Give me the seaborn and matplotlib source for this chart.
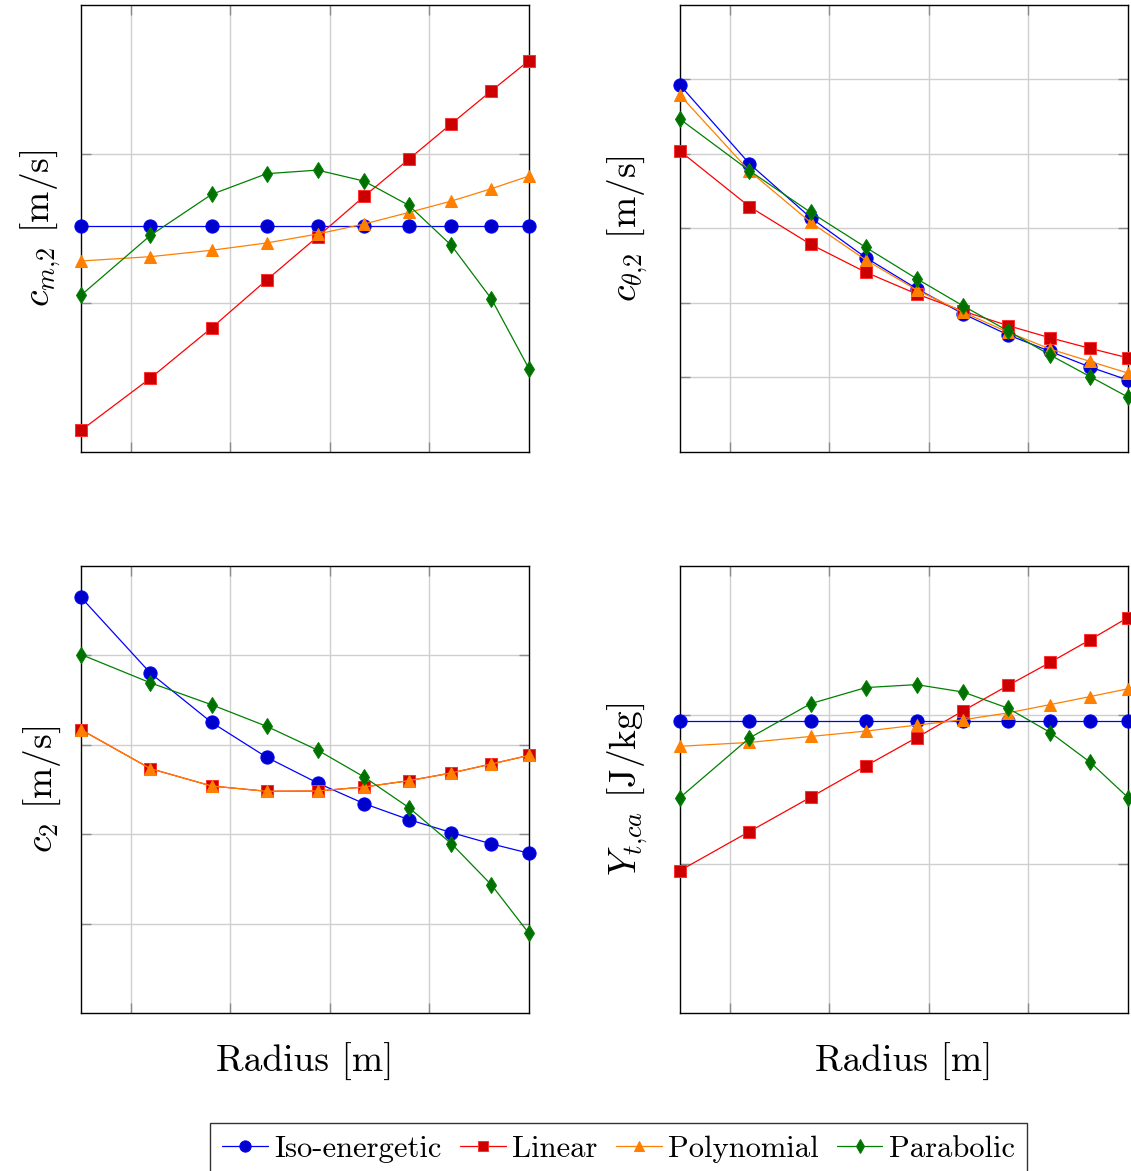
import matplotlib
matplotlib.use("Agg")
import matplotlib.pyplot as plt
import numpy as np
import pandas as pd
import seaborn as sns

# Radial stations [m]
radius = [0.075, 0.1099, 0.1406, 0.1683, 0.1938, 0.2172, 0.2397, 0.2610, 0.2811, 0.300]

# Meridional velocity c_m,2 [m/s]
cm_iso = [55.15] * 10
cm_lin = [41.45, 44.96, 48.33, 51.55, 54.45, 57.16, 59.66, 62.03, 64.24, 66.27]
cm_pol = [52.82, 53.11, 53.54, 54.03, 54.63, 55.30, 56.08, 56.84, 57.67, 58.52]
cm_par = [50.52, 54.54, 57.29, 58.68, 58.92, 58.18, 56.55, 53.87, 50.28, 45.59]

# Tangential velocity c_theta,2 [m/s]
ct_iso = [79.24, 68.69, 61.45, 56.09, 51.94, 48.54, 45.73, 43.49, 41.39, 39.65]
ct_lin = [70.39, 62.93, 57.88, 54.13, 51.22, 48.90, 46.97, 45.32, 43.90, 42.64]
ct_pol = [77.89, 67.70, 60.83, 55.78, 51.76, 48.76, 46.09, 43.81, 42.15, 40.59]
ct_par = [74.68, 67.75, 62.17, 57.47, 53.27, 49.61, 46.26, 43.00, 40.10, 37.37]

# Absolute velocity c_2 [m/s]
c2_iso = [96.50, 88.01, 82.50, 78.60, 75.73, 73.42, 71.63, 70.18, 68.92, 67.87]
c2_lin = [81.69, 77.33, 75.39, 74.80, 74.83, 75.28, 75.99, 76.85, 77.85, 78.82]
c2_pol = [81.69, 77.33, 75.39, 74.80, 74.83, 75.28, 75.99, 76.85, 77.85, 78.82]
c2_par = [90.10, 86.93, 84.48, 82.06, 79.41, 76.40, 72.97, 68.95, 64.34, 58.90]

# Specific work Y_t,ca [J/kg]
y_iso = [2481] * 10
y_lin = [1978, 2109, 2224, 2329, 2424, 2514, 2599, 2677, 2753, 2827]
y_pol = [2395, 2408, 2428, 2446, 2466, 2484, 2507, 2535, 2562, 2588]
y_par = [2223, 2423, 2538, 2592, 2602, 2577, 2523, 2441, 2341, 2223]

series_names = ["Iso-energetic", "Linear", "Polynomial", "Parabolic"]

sns.set_theme(style="whitegrid")
plt.rcParams["font.family"] = ["cmr10", "DejaVu Serif"]
plt.rcParams["mathtext.fontset"] = "cm"
plt.rcParams["axes.formatter.use_mathtext"] = True
plt.rcParams["text.color"] = "black"
plt.rcParams["axes.labelcolor"] = "black"

styles = {
    "Iso-energetic": dict(color="#0000ff", marker="o", markersize=9.5,
                          markerfacecolor="#0000cc", markeredgecolor="#0000ff"),
    "Linear": dict(color="#ff0000", marker="s", markersize=9.0,
                   markerfacecolor="#cc0000", markeredgecolor="#ff3030"),
    "Polynomial": dict(color="#ff8000", marker="^", markersize=9.0,
                       markerfacecolor="#ff8000", markeredgecolor="#ff8000"),
    "Parabolic": dict(color="#008000", marker="d", markersize=8.5,
                      markerfacecolor="#007000", markeredgecolor="#008000"),
}

panels = [
    dict(data=[cm_iso, cm_lin, cm_pol, cm_par], ylim=(40, 70), yticks=[50, 60],
         ylabel=r"$c_{m{,}2}$ [m/s]", rect=[81, 5]),
    dict(data=[ct_iso, ct_lin, ct_pol, ct_par], ylim=(30, 90), yticks=[40, 50, 60, 70, 80],
         ylabel=r"$c_{\theta{,}2}$ [m/s]", rect=[680, 5]),
    dict(data=[c2_iso, c2_lin, c2_pol, c2_par], ylim=(50, 100), yticks=[60, 70, 80, 90],
         ylabel=r"$c_{2}$ [m/s]", rect=[81, 566]),
    dict(data=[y_iso, y_lin, y_pol, y_par], ylim=(1500, 3000), yticks=[2000, 2500],
         ylabel=r"$Y_{t{,}ca}$ [J/kg]", rect=[680, 566]),
]

W, H = 1131, 1171
fig = plt.figure(figsize=(W / 100, H / 100), dpi=100)
fig.patch.set_facecolor("white")

aw, ah = 448, 447
axes = []
for i, p in enumerate(panels):
    x0, y0 = p["rect"]
    ax = fig.add_axes([x0 / W, 1 - (y0 + ah) / H, aw / W, ah / H])
    ax.set_facecolor("white")
    for name, vals in zip(series_names, p["data"]):
        df = pd.DataFrame({"r": radius, "v": vals})
        sns.lineplot(data=df, x="r", y="v", ax=ax, label=name, linewidth=0.9,
                     clip_on=False, zorder=3, legend=False, **styles[name])
    ax.set_xlim(0.075, 0.3)
    ax.set_ylim(*p["ylim"])
    ax.set_xticks([0.1, 0.15, 0.2, 0.25])
    ax.set_yticks(p["yticks"])
    ax.grid(True, color="#cfcfcf", linewidth=1.0)
    ax.tick_params(direction="in", length=7, width=1.0, color="#8a8a8a",
                   top=True, right=True, bottom=True, left=True,
                   labelbottom=False, labelleft=False)
    for s in ax.spines.values():
        s.set_color("black")
        s.set_linewidth(1.0)
        s.set_visible(True)
    ax.set_ylabel(p["ylabel"], fontsize=27, color="black")
    if i % 2 == 0:
        ax.yaxis.set_label_coords(-0.04, 0.5)
    else:
        ax.yaxis.set_label_coords(-0.068, 0.5)
    ax.set_xlabel("")
    if i >= 2:
        ax.set_xlabel("Radius [m]", fontsize=27, color="black")
        ax.xaxis.set_label_coords(0.5, -0.066)
    axes.append(ax)

handles, labels = axes[0].get_legend_handles_labels()
leg = fig.legend(handles, labels, loc="upper center", ncol=4,
                 bbox_to_anchor=(618.5 / W, 1 - 1123 / H), fontsize=22,
                 frameon=True, fancybox=False, edgecolor="black",
                 handlelength=1.5, handletextpad=0.2, columnspacing=0.6,
                 borderpad=0.4, borderaxespad=0.0, markerscale=0.85)
leg.get_frame().set_linewidth(1.0)
for t in leg.get_texts():
    t.set_color("black")

fig.savefig("out.png", dpi=100, facecolor="white")
